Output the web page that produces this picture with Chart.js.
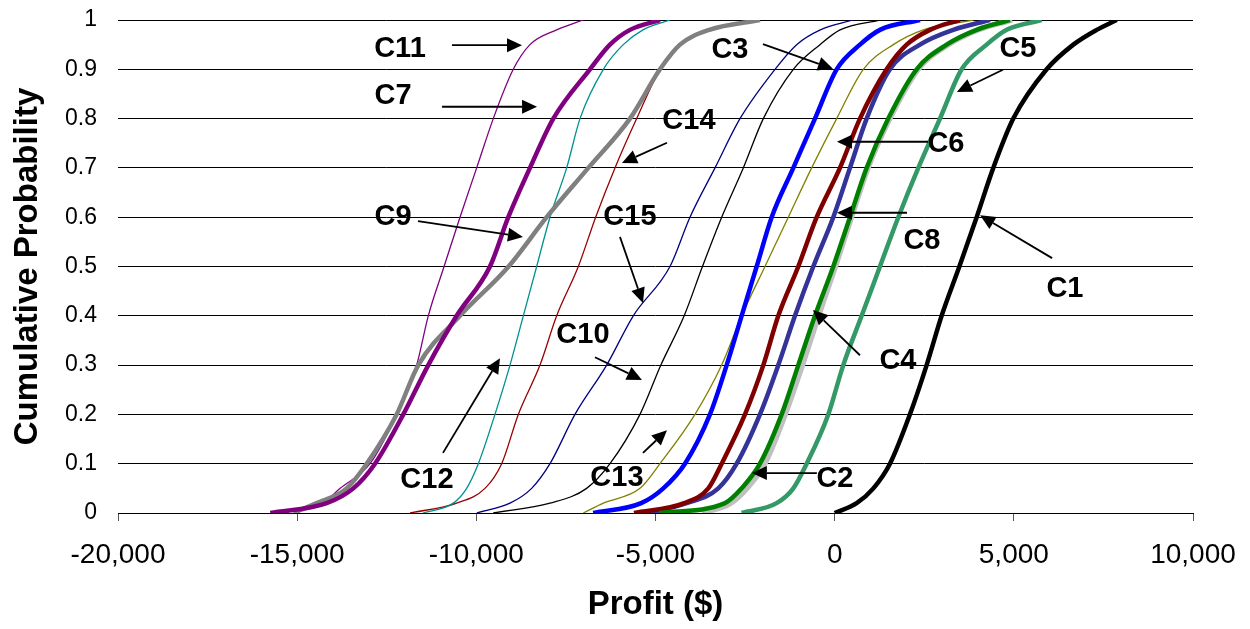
<!DOCTYPE html>
<html>
<head>
<meta charset="utf-8">
<script src="https://cdn.jsdelivr.net/npm/chart.js@4/dist/chart.umd.min.js"></script>
<style>
  html, body { margin: 0; padding: 0; background: #fff; }
  #wrap { width: 1250px; height: 629px; }
</style>
</head>
<body>
<div id="wrap"><canvas id="cdf" width="1250" height="629"></canvas></div>
<script>
// cumulative probability levels shared by every curve
var PROBS = [0, 0.02, 0.05, 0.1, 0.2, 0.3, 0.4, 0.5, 0.6, 0.7, 0.8, 0.9, 0.95, 0.98, 1];

// profit ($) at each probability level
var C1  = [0, 614, 1080, 1543, 2100, 2567, 2985, 3480, 3962, 4427, 4985, 5916, 6660, 7312, 7870];
var C2  = [-3700, -2900, -2450, -1950, -1380, -900, -450, 20, 470, 930, 1540, 2330, 3170, 4000, 4950];
var C3  = [-6740, -5400, -4783, -4178, -3480, -3014, -2596, -2177, -1758, -1154, -550, 56, 706, 1264, 2380];
var C4  = [-4900, -3061, -2596, -2085, -1480, -1015, -550, -39, 427, 893, 1496, 2288, 3125, 3962, 4892];
var C5  = [-2596, -1620, -1154, -782, -178, 240, 753, 1264, 1776, 2334, 2939, 3544, 4241, 4800, 5776];
var C6  = [-5600, -4200, -3527, -3154, -2503, -1991, -1573, -1015, -502, 148, 706, 1450, 2009, 2660, 3497];
var C7  = [-15750, -14177, -13433, -12828, -12038, -11341, -10549, -9620, -9108, -8503, -7852, -6829, -6271, -5713, -4875];
var C8  = [-5200, -4131, -3248, -2735, -2085, -1573, -1108, -597, -39, 427, 893, 1543, 2380, 3310, 4334];
var C9  = [-15100, -14456, -13619, -13061, -12224, -11620, -10456, -9100, -8038, -6875, -5713, -4875, -4317, -3500, -2085];
var C10 = [-9527, -7945, -6922, -6270, -5433, -4850, -4200, -3690, -3153, -2550, -1991, -1154, -410, 150, 1264];
var C11 = [-15600, -14300, -13800, -12968, -12224, -11665, -11341, -10900, -10456, -9990, -9527, -8969, -8503, -7758, -7015];
var C12 = [-11490, -10643, -10270, -9945, -9480, -9061, -8689, -8316, -7945, -7479, -7107, -6456, -5900, -5349, -4596];
var C13 = [-7015, -6457, -5433, -4875, -3898, -3154, -2596, -1945, -1294, -642, 56, 800, 1636, 2473, 3869];
var C14 = [-11850, -10549, -9759, -9293, -8829, -8224, -7758, -7154, -6670, -6131, -5526, -4875, -4345, -3572, -2085];
var C15 = [-9990, -9061, -8456, -7945, -7247, -6363, -5620, -4596, -4038, -3340, -2642, -1665, -1061, -400, 511];

var X_TICKS = [-20000, -15000, -10000, -5000, 0, 5000, 10000];
var Y_TICKS = [0, 0.1, 0.2, 0.3, 0.4, 0.5, 0.6, 0.7, 0.8, 0.9, 1];

var SERIES = { C1: C1, C2: C2, C3: C3, C4: C4, C5: C5, C6: C6, C7: C7, C8: C8,
               C9: C9, C10: C10, C11: C11, C12: C12, C13: C13, C14: C14, C15: C15 };

// line styles
var STYLE = {
  C1:  { color: '#000000', width: 4.5 },
  C2:  { color: '#c0c0c0', width: 5.5, order: 1 },
  C3:  { color: '#0000ff', width: 4.5 },
  C4:  { color: '#008000', width: 4.5 },
  C5:  { color: '#339966', width: 4.5 },
  C6:  { color: '#800000', width: 4.5 },
  C7:  { color: '#800080', width: 4.5 },
  C8:  { color: '#333399', width: 4.5 },
  C9:  { color: '#808080', width: 4.5 },
  C10: { color: '#000000', width: 1.3 },
  C11: { color: '#800080', width: 1.3 },
  C12: { color: '#009090', width: 1.3 },
  C13: { color: '#808000', width: 1.3 },
  C14: { color: '#990000', width: 1.3 },
  C15: { color: '#000080', width: 1.3 }
};

// callout text [name, x, prob] and arrows [fromX, fromP, toX, toP], in data units
var CALLOUTS = [
  ['C11', -12131, 0.941, -10678, 0.949, -8725, 0.949],
  ['C7',  -12322, 0.846, -10957, 0.824, -8306, 0.824],
  ['C9',  -12322, 0.600, -11629, 0.592, -8699, 0.560],
  ['C12', -11378, 0.067, -10930, 0.122, -9340, 0.314],
  ['C15', -5713,  0.600, -5992,  0.560, -5350, 0.426],
  ['C10', -7024,  0.361, -6690,  0.316, -5378, 0.270],
  ['C13', -6076,  0.071, -5350,  0.122, -4680, 0.168],
  ['C14', -4066,  0.795, -4680,  0.751, -5936, 0.710],
  ['C3',  -2922,  0.939, -2001,  0.951, -47,   0.901],
  ['C6',  3106,   0.748, 2604,   0.753, 64,    0.753],
  ['C8',  2436,   0.552, 2018,   0.609, 64,    0.609],
  ['C5',  5115,   0.941, 4695,   0.899, 3411,  0.854],
  ['C1',  6427,   0.454, 6068,   0.517, 4059,  0.604],
  ['C4',  1766,   0.308, 706,    0.320, -606,  0.412],
  ['C2',  8,      0.069, -497,   0.081, -2311, 0.081]
];

var FONT = '"Liberation Sans", Arial, sans-serif';

var datasets = Object.keys(SERIES).map(function (name) {
  var st = STYLE[name];
  return {
    label: name,
    data: SERIES[name].map(function (x, i) { return { x: x, y: PROBS[i] }; }),
    borderColor: st.color,
    borderWidth: st.width,
    pointRadius: 0,
    fill: false,
    cubicInterpolationMode: 'monotone',
    order: st.order || 0
  };
});

var calloutPlugin = {
  id: 'callouts',
  afterDatasetsDraw: function (chart) {
    var ctx = chart.ctx, xs = chart.scales.x, ys = chart.scales.y;
    ctx.save();
    ctx.fillStyle = '#000';
    ctx.strokeStyle = '#000';
    ctx.font = 'bold 29px ' + FONT;
    ctx.textAlign = 'center';
    ctx.textBaseline = 'middle';
    CALLOUTS.forEach(function (c) {
      ctx.fillText(c[0], xs.getPixelForValue(c[1]), ys.getPixelForValue(c[2]));
      var x0 = xs.getPixelForValue(c[3]), y0 = ys.getPixelForValue(c[4]);
      var x1 = xs.getPixelForValue(c[5]), y1 = ys.getPixelForValue(c[6]);
      var ang = Math.atan2(y1 - y0, x1 - x0);
      var headLen = 15, headW = 7;
      var bx = x1 - headLen * Math.cos(ang), by = y1 - headLen * Math.sin(ang);
      ctx.lineWidth = 1.8;
      ctx.beginPath();
      ctx.moveTo(x0, y0);
      ctx.lineTo(bx, by);
      ctx.stroke();
      ctx.beginPath();
      ctx.moveTo(x1, y1);
      ctx.lineTo(bx + headW * Math.sin(ang), by - headW * Math.cos(ang));
      ctx.lineTo(bx - headW * Math.sin(ang), by + headW * Math.cos(ang));
      ctx.closePath();
      ctx.fill();
    });
    ctx.restore();
  }
};

new Chart(document.getElementById('cdf'), {
  type: 'line',
  data: { datasets: datasets },
  plugins: [calloutPlugin],
  options: {
    responsive: false,
    animation: false,
    devicePixelRatio: 1,
    layout: { padding: { left: 0, right: 57, top: 20, bottom: 0 } },
    plugins: { legend: { display: false }, tooltip: { enabled: false } },
    scales: {
      x: {
        type: 'linear',
        min: -20000,
        max: 10000,
        afterBuildTicks: function (s) { s.ticks = X_TICKS.map(function (v) { return { value: v }; }); },
        afterFit: function (s) { s.height = 116; s.paddingLeft = 0; s.paddingRight = 0; },
        border: { display: true, color: '#000', width: 1 },
        grid: { drawOnChartArea: false, drawTicks: true, tickLength: 8, color: '#555' },
        ticks: {
          color: '#000',
          padding: 17,
          maxRotation: 0,
          font: { family: FONT, size: 28 },
          callback: function (v) { return Number(v).toLocaleString('en-US'); }
        },
        title: {
          display: true,
          text: 'Profit ($)',
          color: '#000',
          font: { family: FONT, size: 33, weight: 'bold' },
          padding: { top: 0, bottom: 4 }
        }
      },
      y: {
        type: 'linear',
        min: 0,
        max: 1,
        afterBuildTicks: function (s) { s.ticks = Y_TICKS.map(function (v) { return { value: v }; }); },
        afterFit: function (s) { s.width = 118; s.paddingTop = 0; s.paddingBottom = 0; },
        border: { display: false },
        grid: { drawTicks: false, color: '#000', lineWidth: 1 },
        ticks: {
          color: '#000',
          padding: 21,
          font: { family: FONT, size: 23 },
          callback: function (v) { return String(Number(Number(v).toFixed(1))); }
        },
        title: {
          display: true,
          text: 'Cumulative Probability',
          color: '#000',
          font: { family: FONT, size: 33, weight: 'bold' },
          padding: { top: 8, bottom: 0 }
        }
      }
    }
  }
});
</script>
</body>
</html>
